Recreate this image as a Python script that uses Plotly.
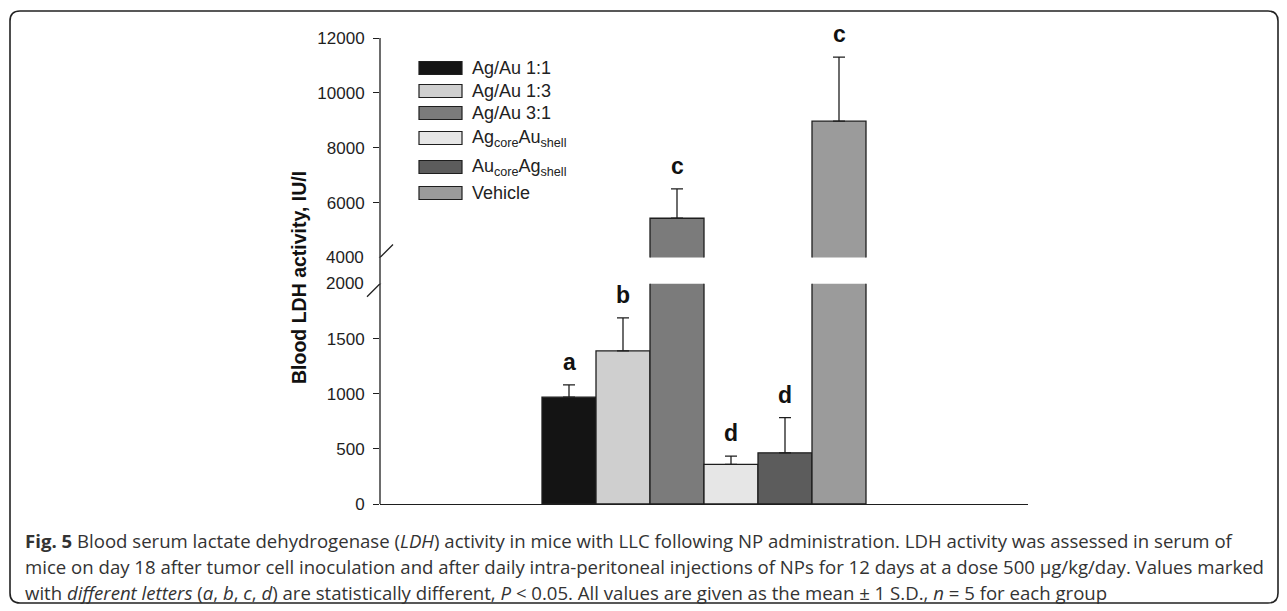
import plotly.graph_objects as go

# Group labels, means and standard deviations (IU/l)
groups = [
    "Ag/Au 1:1",
    "Ag/Au 1:3",
    "Ag/Au 3:1",
    "Ag<sub>core</sub>Au<sub>shell</sub>",
    "Au<sub>core</sub>Ag<sub>shell</sub>",
    "Vehicle",
]
ldh_mean = [970, 1390, 5430, 360, 465, 8970]
ldh_sd = [112, 300, 1070, 75, 320, 2330]
sig_letters = ["a", "b", "c", "d", "d", "c"]
fills = ["#141414", "#cfcfcf", "#7b7b7b", "#e6e6e6", "#5c5c5c", "#9b9b9b"]

# Broken y axis: lower panel 0-2000, upper panel 4000-12000
low_range = [0, 2000]
high_range = [4000, 12000]
low_ticks = [0, 500, 1000, 1500]
high_ticks = [6000, 8000, 10000, 12000]

INK = "#1e1e1e"
TICK_FONT = dict(family="Liberation Sans, Arial, sans-serif", size=17, color=INK)

fig = go.Figure()

for i, (name, m, s, col) in enumerate(zip(groups, ldh_mean, ldh_sd, fills)):
    for axis, (lo, hi) in (("y", low_range), ("y2", high_range)):
        show_err = lo <= m <= hi
        fig.add_trace(go.Bar(
            x=[i], y=[m], yaxis=axis, width=1,
            marker=dict(color=col, line=dict(color=INK, width=1.3)),
            error_y=dict(type="data", array=[s], arrayminus=[0], symmetric=False,
                         color=INK, thickness=1.3, width=6, visible=show_err),
            name=name, showlegend=False, hoverinfo="skip",
        ))
        if show_err:
            fig.add_annotation(
                x=i, y=m + s, xref="x", yref=axis, text=f"<b>{sig_letters[i]}</b>",
                showarrow=False, yanchor="middle", yshift=23,
                font=dict(family="Liberation Sans, Arial, sans-serif", size=23, color="#111"),
            )

# Hand-built legend with wide swatches
legend_rows = [68, 91, 113, 138, 167, 193]
plot_top = 38
for name, col, row in zip(groups, fills, legend_rows):
    off = plot_top - row
    fig.add_shape(type="rect", xref="paper", yref="paper", xsizemode="pixel", ysizemode="pixel",
                  xanchor=0, yanchor=1, x0=39, x1=82, y0=off - 6.5, y1=off + 6.5,
                  fillcolor=col, line=dict(color=INK, width=1.2))
    fig.add_annotation(xref="paper", yref="paper", x=0, y=1, xshift=90, yshift=off,
                       xanchor="left", yanchor="middle", text=name, showarrow=False,
                       font=dict(family="Liberation Sans, Arial, sans-serif", size=18, color="#222"))

# Continuous y axis line and break marks
fig.add_shape(type="line", xref="paper", yref="paper", x0=0, x1=0, y0=0, y1=1,
              line=dict(color=INK, width=1.3))
for axis, level in (("y", low_range[1]), ("y2", high_range[0])):
    fig.add_shape(type="line", xref="paper", yref=axis, xsizemode="pixel", ysizemode="pixel",
                  xanchor=0, yanchor=level, x0=-13, x1=13, y0=-13, y1=13,
                  line=dict(color=INK, width=1.3))
    fig.add_annotation(xref="paper", yref=axis, x=0, y=level, xanchor="right", yanchor="middle",
                       xshift=-14, text=str(level), showarrow=False, font=TICK_FONT)

# Y axis title
fig.add_annotation(xref="paper", yref="paper", x=0, y=0.5, xshift=-94, yshift=-7,
                   text="<b>Blood LDH activity, IU/I</b>", textangle=-90, showarrow=False,
                   font=dict(family="Liberation Sans, Arial, sans-serif", size=19.5, color="#111"))

# Rounded frame around figure and caption
x0, x1, yt, yb, r = -370, 898, 27, -565, 10
frame = (f"M{x0 + r},{yt} L{x1 - r},{yt} Q{x1},{yt} {x1},{yt - r} L{x1},{yb + r} "
         f"Q{x1},{yb} {x1 - r},{yb} L{x0 + r},{yb} Q{x0},{yb} {x0},{yb + r} "
         f"L{x0},{yt - r} Q{x0},{yt} {x0 + r},{yt} Z")
fig.add_shape(type="path", xref="paper", yref="paper", xsizemode="pixel", ysizemode="pixel",
              xanchor=0, yanchor=1, path=frame, line=dict(color="#222", width=1.6))

caption = [
    "<b>Fig. 5</b> Blood serum lactate dehydrogenase (<i>LDH</i>) activity in mice with LLC "
    "following NP administration. LDH activity was assessed in serum of",
    "mice on day 18 after tumor cell inoculation and after daily intra-peritoneal injections "
    "of NPs for 12 days at a dose 500 µg/kg/day. Values marked",
    "with <i>different letters</i> (<i>a</i>, <i>b</i>, <i>c</i>, <i>d</i>) are statistically "
    "different, <i>P</i> &lt; 0.05. All values are given as the mean ± 1 S.D., <i>n</i> = 5 for each group",
]
for k, line in enumerate(caption):
    fig.add_annotation(xref="paper", yref="paper", x=0, y=0, xshift=-357, yshift=-36 - 26 * k,
                       xanchor="left", yanchor="middle", text=line, showarrow=False,
                       font=dict(family="Open Sans, sans-serif", size=18.6, color="#333"))

fig.update_layout(
    width=1287, height=611, autosize=False,
    margin=dict(l=380, r=259, t=38, b=107),
    paper_bgcolor="white", plot_bgcolor="white",
    barmode="overlay", showlegend=False,
    xaxis=dict(range=[-3.5, 8.5], showline=True, linecolor=INK, linewidth=1.3,
               showticklabels=False, ticks="", showgrid=False, zeroline=False),
    yaxis=dict(domain=[0, 0.4727], range=low_range, tickvals=low_ticks, tickformat="d",
               ticks="outside", ticklen=6, tickcolor=INK, tickwidth=1.2, showgrid=False,
               zeroline=False, showline=False, tickfont=TICK_FONT, ticklabelstandoff=5),
    yaxis2=dict(domain=[0.529, 1], range=high_range, tickvals=high_ticks, tickformat="d",
                ticks="outside", ticklen=6, tickcolor=INK, tickwidth=1.2, showgrid=False,
                zeroline=False, showline=False, tickfont=TICK_FONT, anchor="x",
                ticklabelstandoff=5),
)

fig.write_html("out.html")
